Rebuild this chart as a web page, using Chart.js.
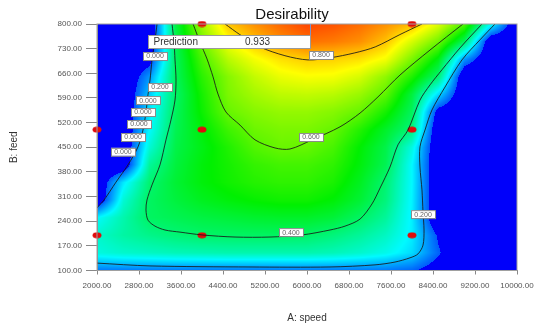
<!DOCTYPE html>
<html>
<head>
<meta charset="utf-8">
<script src="https://cdn.jsdelivr.net/npm/chart.js@4.4.1/dist/chart.umd.min.js"></script>
<style>
  html, body { margin: 0; padding: 0; background: #fff; }
  #wrap { width: 546px; height: 325px; }
</style>
</head>
<body>
<div id="wrap"><canvas id="myChart" width="546" height="325"></canvas></div>
<script>
const FONT = "'Liberation Sans', Arial, sans-serif";

// axis ticks
const speedTicks = [2000, 2800, 3600, 4400, 5200, 6000, 6800, 7600, 8400, 9200, 10000];
const feedTicks = [100, 170, 240, 310, 380, 450, 520, 590, 660, 730, 800];

// desirability, on a 500 x 50 grid
const speedGrid = [2000, 2500, 3000, 3500, 4000, 4500, 5000, 5500, 6000, 6500, 7000, 7500, 8000, 8500, 9000, 9500, 10000];
const feedGrid = [800, 750, 700, 650, 600, 550, 500, 450, 400, 350, 300, 250, 200, 150, 100];
const d800 = [0, 0, 0, 0.436, 0.656, 0.81, 0.86, 0.9, 0.933, 0.92, 0.895, 0.86, 0.82, 0.72, 0.58, 0.265, 0];
const d750 = [0, 0, 0, 0.42, 0.61, 0.74, 0.81, 0.86, 0.89, 0.88, 0.86, 0.81, 0.71, 0.61, 0.41, 0, 0];
const d700 = [0, 0, 0.05, 0.41, 0.57, 0.68, 0.74, 0.78, 0.8, 0.795, 0.78, 0.74, 0.62, 0.485, 0.15, 0, 0];
const d650 = [0, 0, 0.15, 0.41, 0.54, 0.63, 0.69, 0.73, 0.745, 0.74, 0.71, 0.64, 0.53, 0.39, 0, 0, 0];
const d600 = [0, 0, 0.2, 0.4, 0.52, 0.62, 0.66, 0.685, 0.69, 0.68, 0.65, 0.59, 0.44, 0.22, 0, 0, 0];
const d550 = [0, 0, 0.23, 0.41, 0.51, 0.6, 0.63, 0.645, 0.645, 0.63, 0.6, 0.52, 0.41, 0.05, 0, 0, 0];
const d500 = [0, 0, 0.25, 0.42, 0.49, 0.56, 0.605, 0.62, 0.62, 0.6, 0.535, 0.46, 0.38, 0, 0, 0, 0];
const d450 = [0, 0, 0.29, 0.43, 0.48, 0.53, 0.58, 0.603, 0.6, 0.57, 0.5, 0.43, 0.28, 0, 0, 0, 0];
const d400 = [0, 0, 0.35, 0.44, 0.49, 0.52, 0.55, 0.565, 0.565, 0.545, 0.49, 0.42, 0.25, 0, 0, 0, 0];
const d350 = [0, 0.23, 0.39, 0.45, 0.49, 0.515, 0.535, 0.545, 0.545, 0.525, 0.47, 0.39, 0.25, 0, 0, 0, 0];
const d300 = [0, 0.29, 0.405, 0.44, 0.47, 0.49, 0.505, 0.515, 0.515, 0.495, 0.45, 0.38, 0.245, 0, 0, 0, 0];
const d250 = [0.25, 0.33, 0.405, 0.42, 0.435, 0.445, 0.455, 0.46, 0.46, 0.445, 0.405, 0.35, 0.24, 0, 0, 0, 0];
const d200 = [0.3, 0.34, 0.365, 0.385, 0.398, 0.402, 0.405, 0.405, 0.4, 0.38, 0.35, 0.31, 0.24, 0.08, 0, 0, 0];
const d150 = [0.28, 0.3, 0.31, 0.32, 0.325, 0.33, 0.33, 0.33, 0.33, 0.32, 0.3, 0.27, 0.22, 0.1, 0, 0, 0];
const d100 = [0.12, 0.12, 0.12, 0.12, 0.12, 0.12, 0.12, 0.12, 0.12, 0.12, 0.12, 0.12, 0.1, 0.04, 0, 0, 0];
const desirability = [d800, d750, d700, d650, d600, d550, d500, d450, d400, d350, d300, d250, d200, d150, d100];

// contour lines (speed, feed)
const c080 = [[4440,800],[4720,770],[5100,735],[5580,710],[6020,698],[6440,704],[6910,718],[7300,735],[7770,770],[8190,800]];
const c060 = [[3830,800],[3960,749],[4095,701],[4210,650],[4305,601],[4457,550],[4724,513],[5010,471],[5391,448],[5676,445],[6095,471],[6629,508],[7010,547],[7352,593],[7771,655],[8343,726],[8971,800]];
const c040 = [[3429,800],[3467,749],[3486,698],[3505,641],[3486,584],[3410,528],[3314,471],[3200,400],[3048,343],[2952,300],[2933,272],[2971,243],[3105,226],[3295,215],[3581,209],[4000,201],[4629,195],[5295,195],[5905,201],[6438,215],[6724,226],[7010,246],[7238,289],[7391,334],[7581,394],[7733,457],[7924,499],[8152,584],[8343,627],[8571,670],[8914,732],[9333,800]];
const c020a = [[3143,800],[3105,755],[3048,698],[3010,641],[2971,599],[2933,550],[2876,499],[2781,451],[2590,400],[2362,351],[2133,300],[2000,278]];
const c020b = [[2000,121],[3010,113],[4914,110],[6438,110],[7295,116],[7676,124],[7962,136],[8114,147],[8210,172],[8229,215],[8210,266],[8190,329],[8152,394],[8152,451],[8248,499],[8381,556],[8629,621],[8952,698],[9295,755],[9581,800]];

// contour labels
const labelText = ["0.000", "0.200", "0.000", "0.000", "0.000", "0.000", "0.000", "0.800", "0.600", "0.400", "0.200"];
const labelSpeed = [3105, 3200, 2971, 2876, 2800, 2686, 2495, 6267, 6076, 5695, 8210];
const labelFeed = [709, 621, 584, 550, 516, 479, 437, 712, 479, 209, 260];

// design points
const designSpeed = [2000, 4000, 4000, 4000, 8000, 8000, 8000, 2000];
const designFeed = [500, 800, 500, 200, 800, 500, 200, 200];

// prediction flag
const predSpeed = 6060;
const predFeed = 800;
const predValue = "0.933";

const stops = [
  [0, [0, 0, 250]],
  [0.25, [0, 250, 255]],
  [0.5, [0, 240, 0]],
  [0.75, [255, 255, 0]],
  [1, [255, 0, 0]],
];

function colour(d) {
  // the zero region is flat blue with a fairly hard edge
  const t = d < 0.09 ? 0 : Math.min(1, d);
  for (let k = 0; k < stops.length - 1; k++) {
    const [t0, c0] = stops[k];
    const [t1, c1] = stops[k + 1];
    if (t <= t1) {
      const f = (t - t0) / (t1 - t0);
      return [0, 1, 2].map((i) => Math.round(c0[i] + (c1[i] - c0[i]) * f));
    }
  }
  return stops[stops.length - 1][1];
}

function sample(s, f) {
  let i = 0;
  while (i < speedGrid.length - 2 && s > speedGrid[i + 1]) i++;
  let j = 0;
  while (j < feedGrid.length - 2 && f < feedGrid[j + 1]) j++;
  const u = Math.max(0, Math.min(1, (s - speedGrid[i]) / (speedGrid[i + 1] - speedGrid[i])));
  const v = Math.max(0, Math.min(1, (feedGrid[j] - f) / (feedGrid[j] - feedGrid[j + 1])));
  const a = desirability[j][i], b = desirability[j][i + 1];
  const c = desirability[j + 1][i], d = desirability[j + 1][i + 1];
  return (a * (1 - u) + b * u) * (1 - v) + (c * (1 - u) + d * u) * v;
}

const surface = {
  id: "surface",
  beforeDraw(chart) {
    const { ctx, chartArea: a, scales } = chart;
    const w = Math.round(a.right - a.left);
    const h = Math.round(a.bottom - a.top);
    const off = document.createElement("canvas");
    off.width = w;
    off.height = h;
    const oc = off.getContext("2d");
    const img = oc.createImageData(w, h);
    for (let j = 0; j < h; j++) {
      const f = scales.y.getValueForPixel(a.top + j + 0.5);
      for (let i = 0; i < w; i++) {
        const s = scales.x.getValueForPixel(a.left + i + 0.5);
        const [r, g, b] = colour(sample(s, f));
        const p = (j * w + i) * 4;
        img.data[p] = r;
        img.data[p + 1] = g;
        img.data[p + 2] = b;
        img.data[p + 3] = 255;
      }
    }
    oc.putImageData(img, 0, 0);
    ctx.drawImage(off, a.left, a.top);
  },
  afterDatasetsDraw(chart) {
    const { ctx, chartArea: a, scales } = chart;
    ctx.save();
    // frame
    ctx.strokeStyle = "#a0a0a0";
    ctx.lineWidth = 1;
    ctx.strokeRect(a.left, a.top, a.right - a.left, a.bottom - a.top);

    // contour labels
    ctx.font = "7px " + FONT;
    ctx.textAlign = "center";
    ctx.textBaseline = "middle";
    labelText.forEach((t, k) => {
      const px = scales.x.getPixelForValue(labelSpeed[k]);
      const py = scales.y.getPixelForValue(labelFeed[k]);
      ctx.fillStyle = "#fff";
      ctx.fillRect(px - 12, py - 4, 24, 8);
      ctx.strokeStyle = "#8a8a8a";
      ctx.strokeRect(px - 12 + 0.5, py - 4 + 0.5, 24, 8);
      ctx.fillStyle = "#666";
      ctx.fillText(t, px, py + 0.5);
    });

    // prediction flag
    const fx = Math.round(scales.x.getPixelForValue(predSpeed)) + 0.5;
    const fy = scales.y.getPixelForValue(predFeed);
    ctx.strokeStyle = "#7c93c8";
    ctx.beginPath();
    ctx.moveTo(fx, fy);
    ctx.lineTo(fx, fy + 11);
    ctx.stroke();
    ctx.fillStyle = "#fff";
    ctx.fillRect(fx - 162, fy + 11, 162, 13);
    ctx.strokeStyle = "#9a9a9a";
    ctx.strokeRect(fx - 162, fy + 11.5, 162, 13);
    ctx.fillStyle = "#333";
    ctx.font = "10px " + FONT;
    ctx.textAlign = "left";
    ctx.fillText("Prediction", fx - 157, fy + 18.5);
    ctx.textAlign = "center";
    ctx.fillText(predValue, fx - 53, fy + 18.5);

    // title
    ctx.fillStyle = "#111";
    ctx.font = "15px " + FONT;
    ctx.textAlign = "center";
    ctx.textBaseline = "alphabetic";
    ctx.fillText("Desirability", 292, 18.5);
    ctx.restore();
  },
};

const dot = document.createElement("canvas");
dot.width = 10;
dot.height = 7;
const dc = dot.getContext("2d");
dc.fillStyle = "#e00c0c";
dc.beginPath();
dc.ellipse(5, 3.5, 4.5, 3, 0, 0, Math.PI * 2);
dc.fill();

const toXY = (arr) => arr.map(([x, y]) => ({ x, y }));

function contour(points) {
  return {
    type: "scatter",
    data: toXY(points),
    showLine: true,
    borderColor: "rgba(25,25,25,0.85)",
    borderWidth: 1,
    pointRadius: 0,
    tension: 0.3,
    fill: false,
  };
}

const ctx = document.getElementById("myChart").getContext("2d");

new Chart(ctx, {
  type: "scatter",
  data: {
    datasets: [
      contour(c080),
      contour(c060),
      contour(c040),
      contour(c020a),
      contour(c020b),
      {
        type: "scatter",
        data: designSpeed.map((s, k) => ({ x: s, y: designFeed[k] })),
        pointStyle: dot,
        pointRadius: 5,
        clip: false,
      },
    ],
  },
  options: {
    responsive: false,
    animation: false,
    layout: { padding: { top: 24, right: 29, bottom: 0, left: 0 } },
    plugins: {
      legend: { display: false },
      tooltip: { enabled: false },
    },
    scales: {
      x: {
        type: "linear",
        min: 2000,
        max: 10000,
        afterBuildTicks: (s) => { s.ticks = speedTicks.map((v) => ({ value: v })); },
        afterFit: (s) => { s.height = 54.5; },
        ticks: {
          callback: (v) => Number(v).toFixed(2),
          color: "#555",
          font: { size: 8, family: FONT },
          maxRotation: 0,
          autoSkip: false,
          padding: 6,
        },
        grid: { drawOnChartArea: false, drawTicks: true, tickLength: 4, color: "#888" },
        border: { color: "#888" },
        title: {
          display: true,
          text: "A: speed",
          color: "#333",
          font: { size: 10, family: FONT },
          padding: { top: 0, bottom: 1 },
        },
      },
      y: {
        type: "linear",
        min: 100,
        max: 800,
        afterBuildTicks: (s) => { s.ticks = feedTicks.map((v) => ({ value: v })); },
        afterFit: (s) => { s.width = 97; },
        ticks: {
          callback: (v) => Number(v).toFixed(2),
          color: "#555",
          font: { size: 8, family: FONT },
          padding: 4,
        },
        grid: { drawOnChartArea: false, drawTicks: true, tickLength: 11, color: "#888" },
        border: { color: "#888" },
        title: {
          display: true,
          text: "B: feed",
          color: "#333",
          font: { size: 10, family: FONT },
          padding: { top: 8, bottom: 0 },
        },
      },
    },
  },
  plugins: [surface],
});
</script>
</body>
</html>
